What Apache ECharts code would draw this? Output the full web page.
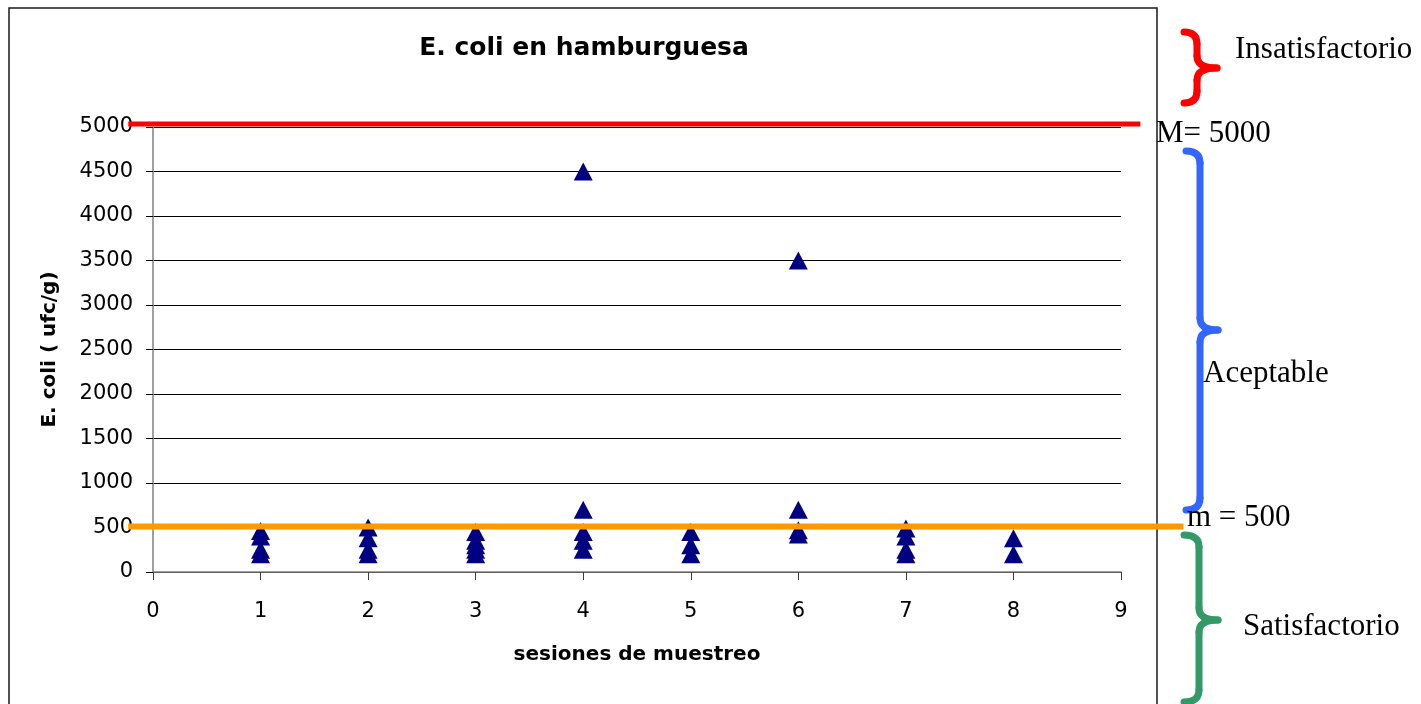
<!DOCTYPE html>
<html>
<head>
<meta charset="utf-8">
<script src="https://cdn.jsdelivr.net/npm/echarts@6/dist/echarts.min.js"></script>
<style>
  html, body { margin: 0; padding: 0; background: #ffffff; }
  #chart { width: 1421px; height: 704px; }
</style>
</head>
<body>
<div id="chart"></div>
<script>
// E. coli counts (ufc/g) per sampling session
const sesiones = [1, 2, 3, 4, 5, 6, 7, 8];
const sesion1 = [200, 250, 400, 460];
const sesion2 = [200, 250, 380, 500];
const sesion3 = [200, 250, 300, 350, 450];
const sesion4 = [250, 350, 450, 700, 4500];
const sesion5 = [200, 300, 450];
const sesion6 = [420, 470, 700, 3500];
const sesion7 = [200, 250, 400, 490];
const sesion8 = [200, 380];

// microbiological limits
const limiteM = 5000;   // M
const limitem = 500;    // m

const yTicks = [0, 500, 1000, 1500, 2000, 2500, 3000, 3500, 4000, 4500, 5000];
const xTicks = [0, 1, 2, 3, 4, 5, 6, 7, 8, 9];

const recuentos = [sesion1, sesion2, sesion3, sesion4, sesion5, sesion6, sesion7, sesion8];
const puntos = [];
sesiones.forEach((s, i) => recuentos[i].forEach(v => puntos.push([s, v])));

const SANS = "'DejaVu Sans', sans-serif";
const SERIF = "'Liberation Serif', 'Times New Roman', serif";

const chart = echarts.init(document.getElementById('chart'), null, { renderer: 'canvas' });

chart.setOption({
  animation: false,
  backgroundColor: '#ffffff',
  grid: { left: 153, right: 300, top: 127, bottom: 132 },
  xAxis: {
    type: 'value',
    min: xTicks[0], max: xTicks[xTicks.length - 1], interval: 1,
    name: 'sesiones de muestreo',
    nameLocation: 'middle',
    nameGap: 73,
    nameTextStyle: { fontFamily: SANS, fontWeight: 'bold', fontSize: 20, color: '#000' },
    axisLine: { lineStyle: { color: '#808080', width: 1.5 } },
    axisTick: { show: true, length: 8, lineStyle: { color: '#404040' } },
    axisLabel: { fontFamily: SANS, fontSize: 21, color: '#000', margin: 29, formatter: v => String(v) },
    splitLine: { show: false }
  },
  yAxis: {
    type: 'value',
    min: yTicks[0], max: yTicks[yTicks.length - 1], interval: 500,
    name: 'E. coli ( ufc/g)',
    nameLocation: 'middle',
    nameGap: 93,
    nameRotate: 90,
    nameTextStyle: { fontFamily: SANS, fontWeight: 'bold', fontSize: 20, color: '#000' },
    axisLine: { show: true, lineStyle: { color: '#808080', width: 1.5 } },
    axisTick: { show: true, length: 7, lineStyle: { color: '#000' } },
    axisLabel: { fontFamily: SANS, fontSize: 21, color: '#000', margin: 20, formatter: v => String(v) },
    splitLine: { show: true, lineStyle: { color: '#000', width: 1 } }
  },
  series: [{
    type: 'scatter',
    data: puntos,
    symbol: 'triangle',
    symbolSize: [19, 18],
    itemStyle: { color: '#000080', opacity: 1 },
    z: 3
  }]
});

// threshold lines placed through the axes' own scales
const px = (x, y) => chart.convertToPixel({ gridIndex: 0 }, [x, y]);
const mIzq = px(-0.23, limiteM), mDer = px(9.18, limiteM);
const nIzq = px(-0.23, limitem), nDer = px(9.58, limitem);

// curly brace built from quadratic curves and straight segments
function llave(x0, xs, xp, y0, ym, y1, color) {
  const r = 12;
  const st = { stroke: color, lineWidth: 7, fill: null, lineCap: 'round' };
  return {
    type: 'group',
    children: [
      { type: 'bezierCurve', shape: { x1: x0, y1: y0, cpx1: xs, cpy1: y0, x2: xs, y2: y0 + r }, style: st },
      { type: 'line', shape: { x1: xs, y1: y0 + r, x2: xs, y2: ym - r }, style: st },
      { type: 'bezierCurve', shape: { x1: xs, y1: ym - r, cpx1: xs, cpy1: ym, x2: xp, y2: ym }, style: st },
      { type: 'bezierCurve', shape: { x1: xp, y1: ym, cpx1: xs, cpy1: ym, x2: xs, y2: ym + r }, style: st },
      { type: 'line', shape: { x1: xs, y1: ym + r, x2: xs, y2: y1 - r }, style: st },
      { type: 'bezierCurve', shape: { x1: xs, y1: y1 - r, cpx1: xs, cpy1: y1, x2: x0, y2: y1 }, style: st }
    ]
  };
}

function texto(str, x, y) {
  return {
    type: 'text', x: x, y: y, z: 20,
    style: { text: str, font: '31px ' + SERIF, fill: '#000', textAlign: 'left', textVerticalAlign: 'middle' }
  };
}

chart.setOption({
  graphic: [
    // chart frame
    { type: 'rect', z: 1, shape: { x: 9, y: 8, width: 1148, height: 800 },
      style: { fill: null, stroke: '#1a1a1a', lineWidth: 1.5 } },
    // title
    { type: 'text', x: 584, y: 48, z: 20,
      style: { text: 'E. coli en hamburguesa', font: 'bold 25px ' + SANS, fill: '#000',
               textAlign: 'center', textVerticalAlign: 'middle' } },
    // limit lines
    { type: 'line', z: 10, shape: { x1: mIzq[0], y1: mIzq[1] - 3, x2: mDer[0], y2: mDer[1] - 3 },
      style: { stroke: '#ff0000', lineWidth: 5 } },
    { type: 'line', z: 10, shape: { x1: nIzq[0], y1: nIzq[1] - 1, x2: nDer[0], y2: nDer[1] - 1 },
      style: { stroke: '#ff9900', lineWidth: 6 } },
    // category braces
    llave(1184, 1197, 1217, 32, 68, 103, '#ff0000'),
    llave(1186, 1200, 1218, 151, 330, 510, '#3366ff'),
    llave(1184, 1199, 1218, 535, 620, 702, '#339966'),
    texto('Insatisfactorio', 1235, 50),
    texto('M= 5000', 1156, 134),
    texto('Aceptable', 1203, 374),
    texto('m = 500', 1187, 518),
    texto('Satisfactorio', 1243, 627)
  ]
});
</script>
</body>
</html>
